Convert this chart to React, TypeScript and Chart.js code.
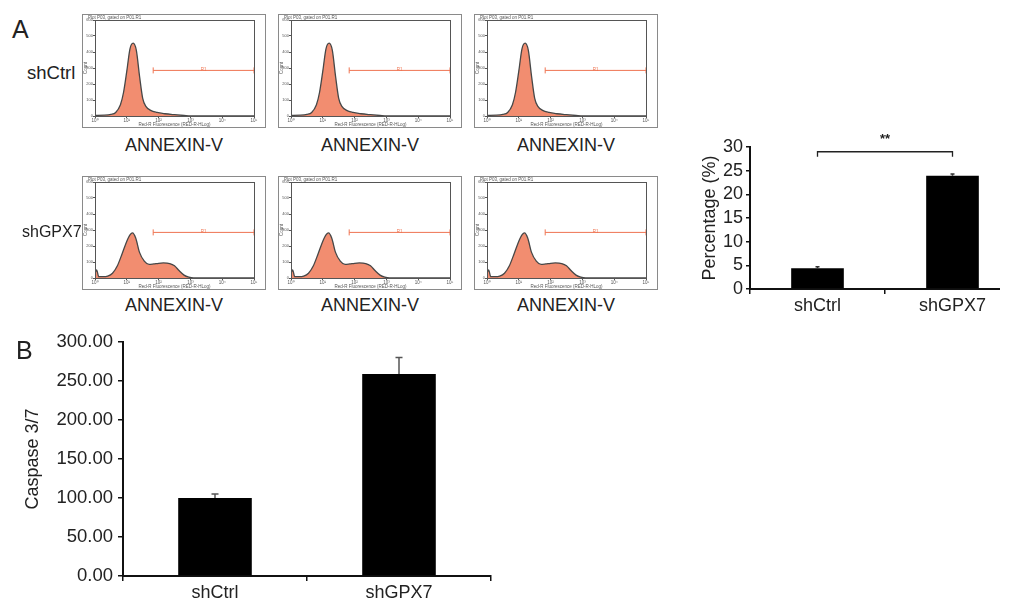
import React, { useEffect, useRef } from 'react';
import { Chart, registerables } from 'chart.js';

Chart.register(...registerables);

// ---------- Data ----------
const histTickLabels = ['10⁰', '10¹', '10²', '10³', '10⁴', '10⁵'];

const ctrlLogX = [0, 0.3, 0.5, 0.65, 0.8, 0.9, 1.0, 1.1, 1.2, 1.3, 1.4, 1.5, 1.6, 1.75, 1.95, 2.2, 2.5, 2.8, 3.0, 3.5, 5];
const ctrlCounts = [4, 5, 10, 22, 70, 150, 280, 420, 455, 410, 250, 110, 60, 35, 22, 14, 8, 3, 0, 0, 0];

const gpxLogX = [0, 0.05, 0.12, 0.25, 0.4, 0.55, 0.7, 0.85, 1.0, 1.1, 1.18, 1.28, 1.4, 1.55, 1.7, 1.85, 2.0, 2.15, 2.35, 2.5, 2.65, 2.8, 2.95, 3.1, 3.5, 5];
const gpxCounts = [30, 50, 8, 8, 12, 30, 75, 150, 230, 270, 282, 250, 160, 105, 85, 88, 92, 94, 90, 76, 45, 18, 5, 0, 0, 0];

const gateStart = 1.83;
const gateEnd = 5;
const gateCount = 285;

const groups = ['shCtrl', 'shGPX7'];
const percentValues = [4.4, 23.9];
const percentErrors = [0.3, 0.4];
const percentTicks = [0, 5, 10, 15, 20, 25, 30];
const bracketLevel = 29;

const caspaseValues = [100, 259];
const caspaseErrors = [5, 21];
const caspaseTicks = [0, 50, 100, 150, 200, 250, 300];

const FONT = "'Liberation Sans', Arial, Helvetica, sans-serif";

// ---------- helpers ----------
function useChart(makeConfig: () => any) {
  const ref = useRef<HTMLCanvasElement>(null);
  useEffect(() => {
    const chart = new Chart(ref.current as HTMLCanvasElement, makeConfig());
    return () => chart.destroy();
  }, []);
  return ref;
}

const histFramePlugin = {
  id: 'histFrame',
  afterDraw(chart: any) {
    const { ctx, chartArea } = chart;
    ctx.save();
    ctx.strokeStyle = '#555';
    ctx.lineWidth = 1;
    ctx.strokeRect(chartArea.left + 0.5, chartArea.top + 0.5, chartArea.right - chartArea.left, chartArea.bottom - chartArea.top);
    ctx.fillStyle = '#555';
    ctx.font = `4.5px ${FONT}`;
    ctx.textBaseline = 'top';
    ctx.textAlign = 'left';
    ctx.fillText('Plot P03, gated on P01.R1', 5, 1);
    const xs = chart.scales.x;
    const ys = chart.scales.y;
    const mx = xs.getPixelForValue((gateStart + gateEnd) / 2);
    const my = ys.getPixelForValue(gateCount);
    ctx.fillStyle = '#EF7452';
    ctx.textAlign = 'center';
    ctx.textBaseline = 'bottom';
    ctx.fillText('R1', mx, my + 2);
    ctx.restore();
  },
};

function Histogram({ left, top, logX, counts }: { left: number; top: number; logX: number[]; counts: number[] }) {
  const ref = useChart(() => ({
    type: 'line',
    data: {
      datasets: [
        {
          data: logX.map((x, i) => ({ x, y: counts[i] })),
          borderColor: '#474747',
          borderWidth: 1.3,
          backgroundColor: '#F28D70',
          fill: 'origin',
          cubicInterpolationMode: 'monotone',
          pointRadius: 0,
        },
        {
          data: [
            { x: gateStart, y: gateCount },
            { x: gateEnd, y: gateCount },
          ],
          borderColor: '#EF7452',
          borderWidth: 1,
          pointStyle: 'line',
          pointRotation: 90,
          pointRadius: 3,
          pointBorderColor: '#EF7452',
          pointBorderWidth: 1,
          fill: false,
        },
      ],
    },
    options: {
      responsive: false,
      animation: false,
      layout: { padding: { top: 5, right: 11, left: 0, bottom: 0 } },
      plugins: { legend: { display: false }, tooltip: { enabled: false } },
      scales: {
        x: {
          type: 'linear',
          min: 0,
          max: 5,
          afterFit: (s: any) => {
            s.height = 11;
          },
          ticks: {
            stepSize: 1,
            autoSkip: false,
            maxRotation: 0,
            font: { size: 4.5, family: FONT },
            color: '#555',
            padding: 0,
            callback: (v: any) => histTickLabels[v],
          },
          grid: { drawOnChartArea: false, tickLength: 2, color: '#555' },
          border: { display: false },
          title: {
            display: true,
            text: 'Red-R Fluorescence (RED-R-HLog)',
            font: { size: 4.5, family: FONT },
            color: '#555',
            padding: 0,
          },
        },
        y: {
          min: 0,
          max: 600,
          afterFit: (s: any) => {
            s.width = 12;
          },
          ticks: { stepSize: 100, autoSkip: false, font: { size: 4, family: FONT }, color: '#555', padding: 0 },
          grid: { drawOnChartArea: false, tickLength: 2, color: '#555' },
          border: { display: false },
          title: { display: true, text: 'Count', font: { size: 4.5, family: FONT }, color: '#555', padding: 0 },
        },
      },
    },
    plugins: [histFramePlugin],
  }));
  return (
    <div
      style={{
        position: 'absolute',
        left,
        top,
        width: 182,
        height: 112,
        border: '1px solid #8a8a8a',
        background: '#fff',
      }}
    >
      <canvas ref={ref} width={182} height={112} style={{ display: 'block' }} />
    </div>
  );
}

function makeErrorPlugin(errors: number[], capHalf: number, color: string) {
  return {
    id: 'errBars',
    afterDatasetsDraw(chart: any) {
      const { ctx } = chart;
      const ys = chart.scales.y;
      const meta = chart.getDatasetMeta(0);
      const values = chart.data.datasets[0].data;
      ctx.save();
      ctx.strokeStyle = color;
      ctx.lineWidth = 1.5;
      meta.data.forEach((bar: any, i: number) => {
        const yTop = ys.getPixelForValue(values[i] + errors[i]);
        const yBar = ys.getPixelForValue(values[i]);
        ctx.beginPath();
        ctx.moveTo(bar.x, yBar);
        ctx.lineTo(bar.x, yTop);
        ctx.moveTo(bar.x - capHalf, yTop);
        ctx.lineTo(bar.x + capHalf, yTop);
        ctx.stroke();
      });
      ctx.restore();
    },
  };
}

const bracketPlugin = {
  id: 'bracket',
  afterDraw(chart: any) {
    const { ctx } = chart;
    const ys = chart.scales.y;
    const meta = chart.getDatasetMeta(0);
    const x1 = meta.data[0].x;
    const x2 = meta.data[1].x;
    const y = ys.getPixelForValue(bracketLevel);
    ctx.save();
    ctx.strokeStyle = '#222';
    ctx.lineWidth = 1.3;
    ctx.beginPath();
    ctx.moveTo(x1, y + 5);
    ctx.lineTo(x1, y);
    ctx.lineTo(x2, y);
    ctx.lineTo(x2, y + 5);
    ctx.stroke();
    ctx.fillStyle = '#222';
    ctx.font = `bold 13px ${FONT}`;
    ctx.textAlign = 'center';
    ctx.textBaseline = 'middle';
    ctx.fillText('**', (x1 + x2) / 2, y - 12);
    ctx.restore();
  },
};

function axisCommon() {
  return {
    border: { display: true, color: '#111', width: 2 },
  };
}

function PercentChart() {
  const ref = useChart(() => ({
    type: 'bar',
    data: {
      labels: groups,
      datasets: [
        {
          data: percentValues,
          backgroundColor: '#000',
          borderWidth: 0,
          barPercentage: 0.39,
          categoryPercentage: 1,
        },
      ],
    },
    options: {
      responsive: false,
      animation: false,
      layout: { padding: { top: 32, right: 10, left: 0, bottom: 0 } },
      plugins: { legend: { display: false }, tooltip: { enabled: false } },
      scales: {
        x: {
          ...axisCommon(),
          afterFit: (s: any) => {
            s.height = 28;
          },
          ticks: { font: { size: 18, family: FONT }, color: '#222', padding: 1 },
          grid: { offset: true, drawOnChartArea: false, tickLength: 5, color: '#111', lineWidth: 1.5 },
        },
        y: {
          ...axisCommon(),
          min: 0,
          max: 30,
          afterFit: (s: any) => {
            s.width = 60;
          },
          afterBuildTicks: (s: any) => {
            s.ticks = percentTicks.map((v) => ({ value: v }));
          },
          ticks: { autoSkip: false, font: { size: 18, family: FONT }, color: '#222', padding: 3 },
          grid: { drawOnChartArea: false, tickLength: 4, color: '#111', lineWidth: 1.5 },
          title: {
            display: true,
            text: 'Percentage (%)',
            font: { size: 18, family: FONT },
            color: '#222',
            padding: { top: 9, bottom: 0 },
          },
        },
      },
    },
    plugins: [makeErrorPlugin(percentErrors, 2, '#333'), bracketPlugin],
  }));
  return (
    <div style={{ position: 'absolute', left: 690, top: 115, width: 310, height: 210, overflow: 'hidden' }}>
      <canvas ref={ref} width={340} height={202} style={{ display: 'block' }} />
    </div>
  );
}

function CaspaseChart() {
  const ref = useChart(() => ({
    type: 'bar',
    data: {
      labels: groups,
      datasets: [
        {
          data: caspaseValues,
          backgroundColor: '#000',
          borderWidth: 0,
          barPercentage: 0.4,
          categoryPercentage: 1,
        },
      ],
    },
    options: {
      responsive: false,
      animation: false,
      layout: { padding: { top: 22, right: 9, left: 0, bottom: 0 } },
      plugins: { legend: { display: false }, tooltip: { enabled: false } },
      scales: {
        x: {
          ...axisCommon(),
          afterFit: (s: any) => {
            s.height = 22;
          },
          ticks: { font: { size: 18, family: FONT }, color: '#222', padding: 1 },
          grid: { offset: true, drawOnChartArea: false, tickLength: 5, color: '#111', lineWidth: 1.5 },
        },
        y: {
          ...axisCommon(),
          min: 0,
          max: 300,
          afterFit: (s: any) => {
            s.width = 103;
          },
          afterBuildTicks: (s: any) => {
            s.ticks = caspaseTicks.map((v) => ({ value: v }));
          },
          ticks: {
            autoSkip: false,
            font: { size: 18.5, family: FONT },
            color: '#222',
            padding: 5,
            callback: (v: any) => Number(v).toFixed(2),
          },
          grid: { drawOnChartArea: false, tickLength: 5, color: '#111', lineWidth: 1.5 },
          title: {
            display: true,
            text: 'Caspase 3/7',
            font: { size: 18, family: FONT },
            color: '#222',
            padding: { top: 2, bottom: 0 },
          },
        },
      },
    },
    plugins: [makeErrorPlugin(caspaseErrors, 3.5, '#555')],
  }));
  return (
    <div style={{ position: 'absolute', left: 20, top: 320, width: 480, height: 278 }}>
      <canvas ref={ref} width={480} height={278} style={{ display: 'block' }} />
    </div>
  );
}

const textStyle: React.CSSProperties = {
  position: 'absolute',
  fontFamily: FONT,
  color: '#222',
  whiteSpace: 'nowrap',
  lineHeight: 1,
  zIndex: 2,
};

export default function App() {
  const frameLefts = [82, 278, 474];
  const rowTops = [14, 176];
  const labelTops = [136, 296];
  return (
    <div
      style={{
        position: 'fixed',
        left: 0,
        top: 0,
        width: 1010,
        height: 598,
        overflow: 'hidden',
        background: '#fff',
      }}
    >
      {frameLefts.map((l, i) => (
        <Histogram key={'c' + i} left={l} top={rowTops[0]} logX={ctrlLogX} counts={ctrlCounts} />
      ))}
      {frameLefts.map((l, i) => (
        <Histogram key={'g' + i} left={l} top={rowTops[1]} logX={gpxLogX} counts={gpxCounts} />
      ))}
      <div style={{ ...textStyle, left: 12, top: 17, fontSize: 25 }}>A</div>
      <div style={{ ...textStyle, left: 16, top: 338, fontSize: 25 }}>B</div>
      <div style={{ ...textStyle, left: 27, top: 64, fontSize: 18.5 }}>shCtrl</div>
      <div style={{ ...textStyle, left: 22, top: 224, fontSize: 16 }}>shGPX7</div>
      {labelTops.map((t, r) =>
        frameLefts.map((l, i) => (
          <div
            key={`lab${r}-${i}`}
            style={{ ...textStyle, left: l, width: 184, top: t, fontSize: 18, textAlign: 'center' }}
          >
            ANNEXIN-V
          </div>
        ))
      )}
      <PercentChart />
      <CaspaseChart />
    </div>
  );
}
